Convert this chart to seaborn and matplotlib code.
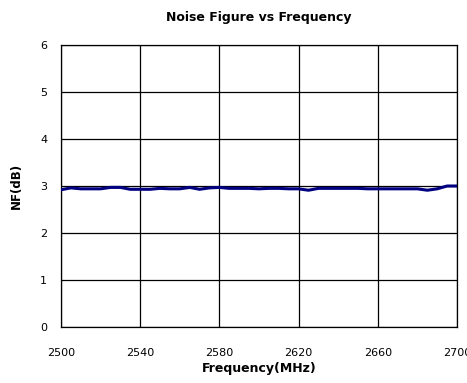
import numpy as np
import pandas as pd
import seaborn as sns
import matplotlib
import matplotlib.pyplot as plt

matplotlib.use('Agg')

# frequency (MHz) and measured noise figure (dB)
freq = [2500, 2505, 2510, 2515, 2520, 2525, 2530, 2535, 2540, 2545,
        2550, 2555, 2560, 2565, 2570, 2575, 2580, 2585, 2590, 2595,
        2600, 2605, 2610, 2615, 2620, 2625, 2630, 2635, 2640, 2645,
        2650, 2655, 2660, 2665, 2670, 2675, 2680, 2685, 2690, 2695, 2700]
nf = [2.92, 2.96, 2.94, 2.94, 2.94, 2.97, 2.97, 2.93, 2.93, 2.93,
      2.95, 2.94, 2.94, 2.97, 2.93, 2.96, 2.97, 2.95, 2.95, 2.95,
      2.94, 2.95, 2.95, 2.94, 2.94, 2.91, 2.95, 2.95, 2.95, 2.95,
      2.95, 2.94, 2.94, 2.94, 2.94, 2.94, 2.94, 2.91, 2.94, 3.00, 3.00]
xticks = [2500, 2540, 2580, 2620, 2660, 2700]
yticks = [0, 1, 2, 3, 4, 5, 6]

df = pd.DataFrame({'freq': freq, 'nf': nf})

sns.set_style('white')
plt.rcParams['font.family'] = ['DejaVu Sans']
plt.rcParams['text.color'] = 'black'
plt.rcParams['axes.labelcolor'] = 'black'
plt.rcParams['xtick.color'] = 'black'
plt.rcParams['ytick.color'] = 'black'

fig = plt.figure(figsize=(4.67, 3.83), dpi=100)
ax = fig.add_axes([0.1306, 0.1462, 0.848, 0.7363])

for y in yticks:
    ax.axhline(y, color='black', lw=0.9, zorder=1)
for x in xticks:
    ax.axvline(x, color='black', lw=0.9, zorder=1)

sns.lineplot(data=df, x='freq', y='nf', ax=ax, color='#000080', lw=2.2, zorder=3)

ax.set_xlim(2500, 2700)
ax.set_ylim(0, 6)
ax.set_xticks(xticks)
ax.set_yticks(yticks)
ax.tick_params(axis='x', length=0, pad=15, labelsize=8)
ax.tick_params(axis='y', length=0, pad=10, labelsize=8)
for s in ax.spines.values():
    s.set_color('black')
    s.set_linewidth(0.9)

ax.set_xlabel('Frequency(MHz)', fontsize=9, fontweight='bold', labelpad=3)
ax.set_ylabel('NF(dB)', fontsize=8.5, fontweight='bold', labelpad=12)
ax.set_title('Noise Figure vs Frequency', fontsize=9, fontweight='bold', pad=17)

fig.savefig('out.png', dpi=100)
